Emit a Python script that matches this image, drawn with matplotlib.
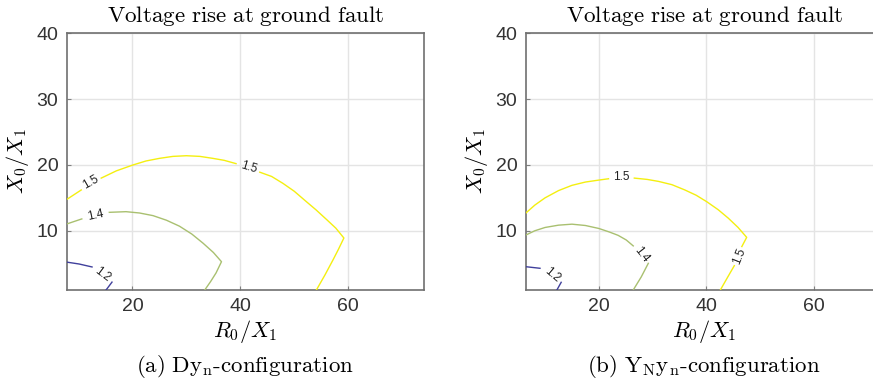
import numpy as np
import matplotlib
matplotlib.use("Agg")
import matplotlib.pyplot as plt

plt.rcParams['mathtext.fontset'] = 'cm'
plt.rcParams['font.family'] = ['Liberation Sans', 'DejaVu Sans']

nan = np.nan
# ---- Data: contour lines (NaN = gap for label) ----
# (a) Dyn-configuration
dyn_15_x = [7.7, 10.5, nan, 14.2, 17.0, 20.1, 22.5, 25.0, 27.5, 30.0, 32.5, 34.9, 37.0, 39.2, nan,
            43.6, 45.8, 47.9, 50.0, 52.2, 54.0, 56.0, 57.7, 59.2, 58.2, 57.2, 55.7, 54.1]
dyn_15_y = [14.7, 16.2, nan, 18.0, 19.1, 20.0, 20.6, 21.0, 21.3, 21.4, 21.3, 21.0, 20.7, 20.2, nan,
            18.9, 18.25, 17.2, 16.0, 14.45, 13.2, 11.7, 10.4, 8.9, 7.2, 5.6, 3.3, 1.0]
dyn_14_x = [7.7, 10.6, nan, 15.7, 18.8, 21.3, 23.8, 26.3, 28.7, 31.0, 33.1, 35.0, 36.5, 35.5, 34.5, 33.4]
dyn_14_y = [11.0, 11.8, nan, 12.8, 12.9, 12.7, 12.3, 11.6, 10.7, 9.5, 8.1, 6.7, 5.3, 3.6, 2.3, 1.0]
dyn_12_x = [7.7, 10.1, 12.5, nan, 16.2, 15.1]
dyn_12_y = [5.25, 4.95, 4.5, nan, 2.2, 1.0]
dyn_labels = [("1.5", 12.3, 17.3, 30), ("1.5", 41.5, 19.6, -17),
              ("1.4", 13.1, 12.4, 12), ("1.2", 14.4, 3.4, -37)]

# (b) YNyn-configuration
yny_15_x = [6.3, 8.1, 10.0, 12.5, 15.0, 17.5, 20.0, 21.8, nan, 26.6, 29.0, 31.1, 33.6, 36.0, 38.1,
            40.1, 42.2, 44.1, 45.9, 47.5, 46.6, nan, 45.2, 44.0, 42.6]
yny_15_y = [12.6, 13.9, 15.0, 16.1, 16.9, 17.4, 17.7, 17.9, nan, 18.0, 17.8, 17.5, 17.0, 16.2, 15.4,
            14.4, 13.2, 11.9, 10.5, 9.0, 7.6, nan, 4.7, 3.0, 1.0]
yny_14_x = [6.3, 8.1, 10.0, 12.5, 15.0, 17.5, 20.0, 22.0, 23.6, 25.1, 26.4, nan, 29.2, 27.9, 26.4]
yny_14_y = [9.3, 10.0, 10.5, 10.85, 11.0, 10.8, 10.35, 9.8, 9.3, 8.6, 7.7, nan, 5.05, 3.0, 1.0]
yny_12_x = [6.3, 9.06, nan, 13.0, 12.2]
yny_12_y = [4.55, 4.3, nan, 2.17, 1.0]
yny_labels = [("1.5", 24.2, 18.1, 0), ("1.5", 46.1, 6.2, 68),
              ("1.4", 27.9, 6.4, -52), ("1.2", 11.3, 3.3, -40)]

xticks = [20, 40, 60]
yticks = [10, 20, 30, 40]
title = r"$\mathrm{Voltage\ rise\ at\ ground\ fault}$"
captions = [r"$\mathrm{(a)\ Dy_n\text{-}configuration}$",
            r"$\mathrm{(b)\ Y_Ny_n\text{-}configuration}$"]

c15 = '#f4ef10'
c14 = '#a9c070'
c12 = '#40409c'

fig = plt.figure(figsize=(8.73, 3.85), dpi=100)
W, H = 873, 385

def make_ax(left_px, xlim, ylim, curves, labels, caption):
    ax = fig.add_axes([left_px / W, 1 - 290 / H, 357 / W, (290 - 33.3) / H])
    ax.set_xlim(*xlim)
    ax.set_ylim(*ylim)
    ax.set_xticks(xticks)
    ax.set_yticks(yticks)
    ax.grid(True, color='#e4e4e4', lw=1.0)
    ax.set_axisbelow(True)
    for x, y, c in curves:
        ax.plot(x, y, color=c, lw=1.0, zorder=3)
    for t, x, y, r in labels:
        ax.text(x, y, t, rotation=r, ha='center', va='center', fontsize=8.5,
                color='#222222', zorder=4, rotation_mode='anchor')
    for s in ax.spines.values():
        s.set_color('#707070')
        s.set_linewidth(1.2)
    ax.tick_params(direction='in', length=3, width=0.8, color='#808080',
                   labelsize=14, labelcolor='#333333', pad=6)
    ax.set_title(title, fontsize=16.6, pad=8)
    ax.set_xlabel(r"$R_0/X_1$", fontsize=16, labelpad=2)
    ax.set_ylabel(r"$X_0/X_1$", fontsize=16, labelpad=4)
    cx = (left_px + 357 / 2) / W
    fig.text(cx, 1 - 366 / H, caption, ha='center', va='center', fontsize=16.5)
    return ax

make_ax(66.7, (7.8, 74.0), (1.0, 40),
        [(dyn_15_x, dyn_15_y, c15), (dyn_14_x, dyn_14_y, c14), (dyn_12_x, dyn_12_y, c12)],
        dyn_labels, captions[0])
make_ax(525.7, (6.4, 72.8), (1.0, 40),
        [(yny_15_x, yny_15_y, c15), (yny_14_x, yny_14_y, c14), (yny_12_x, yny_12_y, c12)],
        yny_labels, captions[1])

fig.savefig("out.png", dpi=100)
